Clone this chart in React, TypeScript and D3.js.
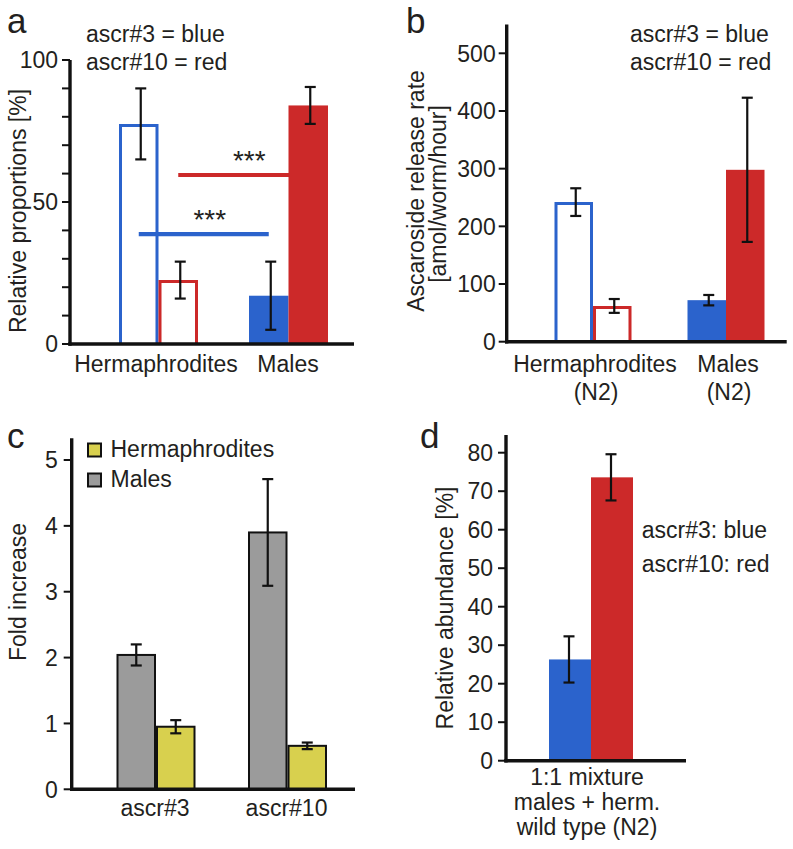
import React from "react";
import * as d3 from "d3";

const FONT = "'Liberation Sans', Arial, Helvetica, sans-serif";
const SX = 1;
const FS = 23;
const INK = "#231f20";
const BLUE = "#2b63cc";
const RED = "#cc2929";
const GRAY = "#9b9b9b";
const YELLOW = "#d8d04e";

// ---- Panel a ----
const aGroups = ["Hermaphrodites", "Males"];
const aSeries = ["ascr#3", "ascr#10"];
const aValues = [[77.5, 22.5], [17, 84]];
const aErrors = [[12.5, 6.5], [12, 6.5]];
const aTicks = [0, 10, 20, 30, 40, 50, 60, 70, 80, 90, 100];
const aTickLabels = [0, 50, 100];
const aSig = [
  { series: 1, value: 59.5 },
  { series: 0, value: 38.7 },
];

// ---- Panel b ----
const bGroups = ["Hermaphrodites", "Males"];
const bGroupSub = ["(N2)", "(N2)"];
const bSeries = ["ascr#3", "ascr#10"];
const bValues = [[242, 62], [72, 298]];
const bErrors = [[24, 12], [9, 125]];
const bTicks = [0, 100, 200, 300, 400, 500];

// ---- Panel c ----
const cGroups = ["ascr#3", "ascr#10"];
const cSeries = ["Males", "Hermaphrodites"];
const cValues = [[2.04, 0.95], [3.9, 0.66]];
const cErrors = [[0.16, 0.1], [0.81, 0.05]];
const cTicks = [0, 1, 2, 3, 4, 5];

// ---- Panel d ----
const dGroups = ["1:1 mixture"];
const dGroupLines = ["1:1 mixture", "males + herm.", "wild type (N2)"];
const dSeries = ["ascr#3", "ascr#10"];
const dValues = [[26.3, 73.6]];
const dErrors = [[6, 6]];
const dTicks = [0, 10, 20, 30, 40, 50, 60, 70, 80];

function Txt({ x, y, anchor = "start", size = FS, rotate = 0, sx = SX, children }: any) {
  return (
    <text
      transform={`translate(${x},${y}) rotate(${rotate}) scale(${sx},1)`}
      textAnchor={anchor}
      fontSize={size}
      fontFamily={FONT}
      fill={INK}
    >
      {children}
    </text>
  );
}

function OpenBar({ x0, x1, yTop, yBase, color, sw = 3 }: any) {
  const h = sw / 2;
  const d = `M${x0 + h},${yBase} L${x0 + h},${yTop + h} L${x1 - h},${yTop + h} L${x1 - h},${yBase}`;
  return <path d={d} fill="none" stroke={color} strokeWidth={sw} />;
}

function ErrBar({ cx, yHi, yLo, cap = 5.5 }: any) {
  return (
    <g stroke="#111" strokeWidth={2.2} fill="none">
      <line x1={cx} x2={cx} y1={yHi} y2={yLo} />
      <line x1={cx - cap} x2={cx + cap} y1={yHi} y2={yHi} />
      <line x1={cx - cap} x2={cx + cap} y1={yLo} y2={yLo} />
    </g>
  );
}

function YAxis({ x, y, top, ticks, labels, tickLen = 8, gap = 4 }: any) {
  const [d0] = y.domain();
  return (
    <g>
      {ticks.map((t: number) => (
        <line key={"t" + t} x1={x - tickLen} x2={x} y1={y(t)} y2={y(t)} stroke="#111" strokeWidth={2} />
      ))}
      {labels.map((t: number) => (
        <Txt key={"l" + t} x={x - tickLen - gap} y={y(t) + 8.2} anchor="end">
          {String(t)}
        </Txt>
      ))}
      <line x1={x} x2={x} y1={y(top)} y2={y(d0) + 1.7} stroke="#111" strokeWidth={3.4} />
    </g>
  );
}

function XAxis({ x0, x1, y }: any) {
  return <line x1={x0 - 1.7} x2={x1} y1={y} y2={y} stroke="#111" strokeWidth={3.4} />;
}

export default function App() {
  // Panel a scales
  const ay = d3.scaleLinear().domain([0, 100]).range([344, 60]);
  const ax = d3.scalePoint().domain(aGroups).range([158.5, 288.5]);
  const aSub = d3.scaleBand().domain(aSeries).range([-39.5, 39.5]);
  const aColors = [BLUE, RED];

  // Panel b scales
  const by = d3.scaleLinear().domain([0, 500]).range([341.7, 53.3]);
  const bx = d3.scalePoint().domain(bGroups).range([593, 726]);
  const bSub = d3.scaleBand().domain(bSeries).range([-38.5, 38.5]);

  // Panel c scales
  const cy = d3.scaleLinear().domain([0, 5]).range([789.3, 460]);
  const cx = d3.scalePoint().domain(cGroups).range([156, 287.5]);
  const cSub = d3.scaleBand().domain(cSeries).range([-39.5, 39.5]);
  const cColors = [GRAY, YELLOW];

  // Panel d scales
  const dy = d3.scaleLinear().domain([0, 80]).range([760.7, 452.7]);
  const dx = d3.scalePoint().domain(dGroups).range([591, 591]);
  const dSub = d3.scaleBand().domain(dSeries).range([-42, 42]);

  const barX = (xs: any, sub: any, g: string, s: string) => (xs(g) as number) + (sub(s) as number);

  return (
    <svg width={793} height={849} style={{ position: "absolute", left: 0, top: 0, background: "#fff" }}>
      <rect width={793} height={849} fill="#fff" />

      {/* ================= Panel a ================= */}
      <Txt x={7} y={33} size={35}>a</Txt>
      <Txt x={86} y={42}>ascr#3 = blue</Txt>
      <Txt x={86} y={70}>ascr#10 = red</Txt>
      <Txt x={26} y={211} rotate={-90} anchor="middle">Relative proportions [%]</Txt>
      {/* significance lines (drawn below bars) */}
      {aSig.map((s, i) => {
        const xa = barX(ax, aSub, aGroups[0], aSeries[s.series]) + aSub.bandwidth() / 2;
        const xb = barX(ax, aSub, aGroups[1], aSeries[s.series]) + aSub.bandwidth() / 2;
        return (
          <g key={"sig" + i}>
            <line x1={xa} x2={xb} y1={ay(s.value)} y2={ay(s.value)} stroke={aColors[s.series]} strokeWidth={4.2} />
            <Txt x={(xa + xb) / 2 + 6} y={ay(s.value) - 5} anchor="middle" size={28}>***</Txt>
          </g>
        );
      })}
      {aGroups.map((g, gi) =>
        aSeries.map((s, si) => {
          const x0 = barX(ax, aSub, g, s);
          const x1 = x0 + aSub.bandwidth();
          const v = aValues[gi][si];
          const e = aErrors[gi][si];
          return (
            <g key={g + s}>
              {gi === 0 ? (
                <OpenBar x0={x0} x1={x1} yTop={ay(v)} yBase={ay(0)} color={aColors[si]} />
              ) : (
                <rect x={x0} y={ay(v)} width={x1 - x0} height={ay(0) - ay(v)} fill={aColors[si]} />
              )}
              <ErrBar cx={(x0 + x1) / 2 + 2} yHi={ay(v + e)} yLo={ay(v - e)} />
            </g>
          );
        })
      )}
      <YAxis x={70} y={ay} top={100} ticks={aTicks} labels={aTickLabels} />
      <XAxis x0={70} x1={354} y={ay(0)} />
      <Txt x={156} y={372} anchor="middle">Hermaphrodites</Txt>
      <Txt x={288} y={372} anchor="middle">Males</Txt>

      {/* ================= Panel b ================= */}
      <Txt x={406} y={33} size={35}>b</Txt>
      <Txt x={630} y={42}>ascr#3 = blue</Txt>
      <Txt x={630} y={70}>ascr#10 = red</Txt>
      <Txt x={424} y={191} rotate={-90} anchor="middle">Ascaroside release rate</Txt>
      <Txt x={446} y={194} rotate={-90} anchor="middle">[amol/worm/hour]</Txt>
      {bGroups.map((g, gi) =>
        bSeries.map((s, si) => {
          const x0 = barX(bx, bSub, g, s);
          const x1 = x0 + bSub.bandwidth();
          const v = bValues[gi][si];
          const e = bErrors[gi][si];
          return (
            <g key={"b" + g + s}>
              {gi === 0 ? (
                <OpenBar x0={x0} x1={x1} yTop={by(v)} yBase={by(0)} color={aColors[si]} />
              ) : (
                <rect x={x0} y={by(v)} width={x1 - x0} height={by(0) - by(v)} fill={aColors[si]} />
              )}
              <ErrBar cx={(x0 + x1) / 2 + 2} yHi={by(v + e)} yLo={by(v - e)} />
            </g>
          );
        })
      )}
      <YAxis x={506.7} y={by} top={550} ticks={bTicks} labels={bTicks} tickLen={8} gap={3} />
      <XAxis x0={506.7} x1={786.7} y={by(0)} />
      {bGroups.map((g, gi) => (
        <g key={"bl" + g}>
          <Txt x={(bx(g) as number) + 2} y={372} anchor="middle">{g}</Txt>
          <Txt x={(bx(g) as number) + 3} y={400} anchor="middle">{bGroupSub[gi]}</Txt>
        </g>
      ))}

      {/* ================= Panel c ================= */}
      <Txt x={7} y={448} size={35}>c</Txt>
      <Txt x={26} y={592} rotate={-90} anchor="middle">Fold increase</Txt>
      {cGroups.map((g, gi) =>
        cSeries.map((s, si) => {
          const x0 = barX(cx, cSub, g, s);
          const x1 = x0 + cSub.bandwidth();
          const v = cValues[gi][si];
          const e = cErrors[gi][si];
          return (
            <g key={"c" + g + s}>
              <rect x={x0 + 1} y={cy(v)} width={x1 - x0 - 2} height={cy(0) - cy(v)} fill={cColors[si]} stroke="#111" strokeWidth={2} />
              <ErrBar cx={(x0 + x1) / 2} yHi={cy(v + e)} yLo={cy(v - e)} />
            </g>
          );
        })
      )}
      <YAxis x={71.7} y={cy} top={5.33} ticks={cTicks} labels={cTicks} tickLen={8} gap={6} />
      <XAxis x0={71.7} x1={355} y={cy(0)} />
      {cGroups.map((g) => (
        <Txt key={"cl" + g} x={(cx(g) as number) - 1} y={816} anchor="middle">{g}</Txt>
      ))}
      {/* legend */}
      {[cSeries[1], cSeries[0]].map((s, i) => (
        <g key={"cleg" + s}>
          <rect x={88} y={443.5 + i * 30} width={13} height={13} fill={s === "Males" ? GRAY : YELLOW} stroke="#111" strokeWidth={2} />
          <Txt x={110.5} y={457 + i * 30}>{s}</Txt>
        </g>
      ))}

      {/* ================= Panel d ================= */}
      <Txt x={420} y={448} size={35}>d</Txt>
      <Txt x={453} y={608} rotate={-90} anchor="middle">Relative abundance [%]</Txt>
      {dGroups.map((g, gi) =>
        dSeries.map((s, si) => {
          const x0 = barX(dx, dSub, g, s);
          const x1 = x0 + dSub.bandwidth();
          const v = dValues[gi][si];
          const e = dErrors[gi][si];
          return (
            <g key={"d" + g + s}>
              <rect x={x0} y={dy(v)} width={x1 - x0} height={dy(0) - dy(v)} fill={aColors[si]} />
              <ErrBar cx={(x0 + x1) / 2 - 1} yHi={dy(v + e)} yLo={dy(v - e)} />
            </g>
          );
        })
      )}
      <YAxis x={506} y={dy} top={84.6} ticks={dTicks} labels={dTicks} tickLen={8} gap={5} />
      <XAxis x0={506} x1={686} y={dy(0)} />
      {dGroupLines.map((t, i) => (
        <Txt key={"dl" + i} x={(dx(dGroups[0]) as number) - 4} y={785 + i * 25} anchor="middle">{t}</Txt>
      ))}
      <Txt x={641.7} y={538}>ascr#3: blue</Txt>
      <Txt x={641.7} y={571.5}>ascr#10: red</Txt>
    </svg>
  );
}
